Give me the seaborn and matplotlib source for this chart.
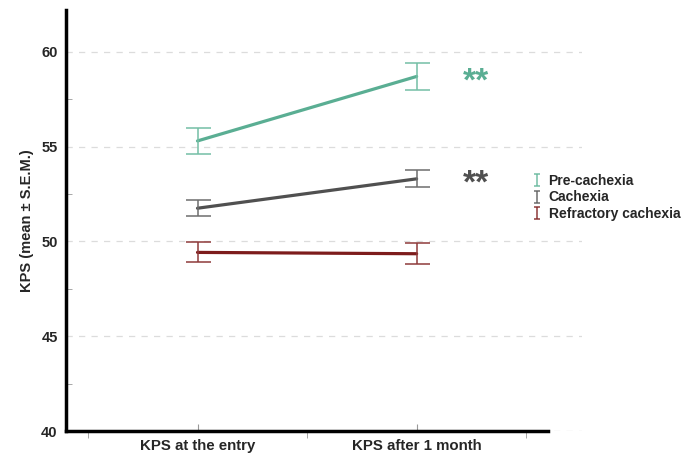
import pandas as pd
import matplotlib.pyplot as plt
import seaborn as sns
from matplotlib.lines import Line2D
from matplotlib.path import Path

# Data
timepoints = ["KPS at the entry", "KPS after 1 month"]
groups = ["Pre-cachexia", "Cachexia", "Refractory cachexia"]
pre_mean = [55.3, 58.7]
pre_sem = [0.70, 0.73]
cach_mean = [51.75, 53.3]
cach_sem = [0.42, 0.45]
refr_mean = [49.42, 49.35]
refr_sem = [0.53, 0.55]
signif = ["**", "**", ""]

colors = {"Pre-cachexia": "#5aae93", "Cachexia": "#505050", "Refractory cachexia": "#7d1c1c"}
cap_colors = {"Pre-cachexia": "#74bfa5", "Cachexia": "#6e6e6e", "Refractory cachexia": "#8e3a3a"}

sns.set_style("white")
plt.rcParams["font.family"] = ["Liberation Sans", "DejaVu Sans"]

rows = []
for g, m, s in zip(groups, [pre_mean, cach_mean, refr_mean], [pre_sem, cach_sem, refr_sem]):
    for t, mv, sv in zip(timepoints, m, s):
        rows.append({"time": t, "group": g, "mean": mv, "sem": sv})
df = pd.DataFrame(rows)

fig = plt.figure(figsize=(6.88, 4.59), dpi=100)
ax = fig.add_axes([0.096, 0.061, 0.75, 0.917])

sns.lineplot(data=df, x="time", y="mean", hue="group", palette=colors,
             linewidth=2.3, ax=ax, legend=False, sort=False)

for g in groups:
    sub = df[df["group"] == g]
    ax.errorbar(range(len(sub)), sub["mean"], yerr=sub["sem"], fmt="none",
                ecolor=cap_colors[g], elinewidth=1.1, capsize=9, capthick=1.1)

for g, star in zip(groups, signif):
    if star:
        sub = df[df["group"] == g]
        ax.text(1.21, sub["mean"].iloc[1] - 0.3, star, color=colors[g], fontsize=24,
                fontweight="bold", ha="left", va="center")

ax.set_xlim(-0.6, 1.755)
ax.set_ylim(40, 62.2)
ax.set_yticks([40, 45, 50, 55, 60])
ax.set_yticks([42.5, 47.5, 52.5, 57.5], minor=True)
ax.set_xticks([0, 1])
ax.set_xticklabels(timepoints)
ax.set_xticks([-0.5, 0.5, 1.5], minor=True)
ax.grid(axis="y", which="major", linestyle=(0, (5, 5)), color="#dcdcdc", linewidth=0.9)
ax.set_axisbelow(True)

ax.tick_params(axis="y", which="major", direction="out", length=4, color="#999999",
               labelsize=10.5, pad=2)
ax.tick_params(axis="y", which="minor", direction="in", length=4, color="#999999", left=True)
ax.tick_params(axis="x", which="major", direction="in", length=5, color="#999999",
               labelsize=10.8, pad=6, bottom=True)
ax.tick_params(axis="x", which="minor", direction="out", length=5, color="#999999", bottom=True)
for lab in ax.get_xticklabels() + ax.get_yticklabels():
    lab.set_fontweight("bold")

for side in ["top", "right"]:
    ax.spines[side].set_visible(False)
for side in ["left", "bottom"]:
    ax.spines[side].set_linewidth(2.5)
    ax.spines[side].set_color("black")
ax.spines["bottom"].set_bounds(-0.6, 1.6)

ax.set_xlabel("")
ax.set_ylabel("KPS (mean ± S.E.M.)", fontsize=10.5, fontweight="bold", labelpad=5)

# little "I" errorbar glyph for the legend
ibar = Path([(-0.45, -1), (0.45, -1), (0, -1), (0, 1), (-0.45, 1), (0.45, 1)],
            [Path.MOVETO, Path.LINETO, Path.MOVETO, Path.LINETO, Path.MOVETO, Path.LINETO])
handles = [Line2D([], [], linestyle="none", marker=ibar, markersize=9,
                  markerfacecolor="none", markeredgecolor=cap_colors[g],
                  markeredgewidth=1.1) for g in groups]
ax.legend(handles, groups, loc="center left", bbox_to_anchor=(0.755, 0.57),
          bbox_transform=fig.transFigure, frameon=False,
          prop={"weight": "bold", "size": 10}, handlelength=0.8,
          handletextpad=0.4, labelspacing=0.2)

fig.savefig("out.png", dpi=100)
